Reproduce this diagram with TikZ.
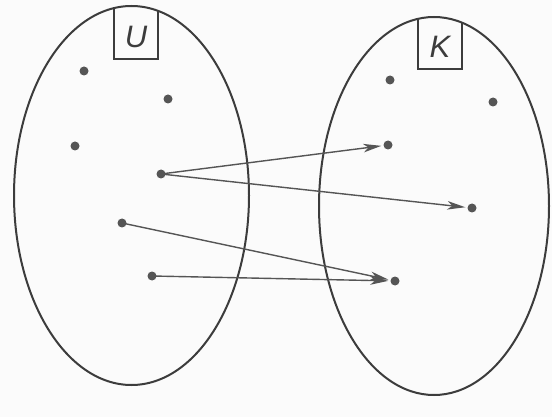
\documentclass[tikz,border=0pt]{standalone}
\usepackage{fontspec}
\setsansfont{Liberation Sans}
\usetikzlibrary{arrows.meta}
\definecolor{ink}{HTML}{3C3C3C}
\definecolor{dotc}{HTML}{555555}
\definecolor{arrc}{HTML}{555555}
\definecolor{bg}{HTML}{FBFBFB}
\begin{document}
\begin{tikzpicture}[x=1pt,y=-1pt,
  setell/.style={draw=ink,line width=2pt},
  lab/.style={draw=ink,line width=1.2pt,minimum width=44pt,minimum height=60pt,inner sep=0pt,text=ink},
  labtxt/.style={inner sep=0pt,font=\sffamily\itshape\fontsize{31}{31}\selectfont,text=ink},
  pt/.style={circle,fill=dotc,minimum size=9pt,inner sep=0pt},
  arr/.style={draw=arrc,line width=1.4pt,-{Stealth[length=18pt,width=8.5pt,inset=5pt]},shorten >=2pt}]
\useasboundingbox (0,0) rectangle (552,417);
\fill[bg] (0,0) rectangle (552,417);
% label boxes, clipped to the inside of their ellipses
\begin{scope}
  \clip (131.5,195.5) ellipse [x radius=117.5, y radius=189.5];
  \node[lab] (Ub) at (136,29) {};
\end{scope}
\begin{scope}
  \clip (434,206) ellipse [x radius=115, y radius=189];
  \node[lab] (Kb) at (440,39) {};
\end{scope}
\node[labtxt] (U) at (136,37) {U};
\node[labtxt] (K) at (440,47) {K};
\draw[setell] (131.5,195.5) ellipse [x radius=117.5, y radius=189.5];
\draw[setell] (434,206) ellipse [x radius=115, y radius=189];
% left points
\node[pt] (u1) at (84,71) {};
\node[pt] (u2) at (168,99) {};
\node[pt] (u3) at (75,146) {};
\node[pt] (u4) at (161,174) {};
\node[pt] (u5) at (122,223) {};
\node[pt] (u6) at (152,276) {};
% right points
\node[pt] (k1) at (390,80) {};
\node[pt] (k2) at (493,102) {};
\node[pt] (k3) at (388,145) {};
\node[pt] (k4) at (472,208) {};
\node[pt] (k5) at (395,281) {};
% arrows
\draw[arr] (u4.center) -- (k3);
\draw[arr] (u4.center) -- (k4);
\draw[arr] (u5.center) -- (k5);
\draw[arr] (u6.center) -- (k5);
\end{tikzpicture}
\end{document}
